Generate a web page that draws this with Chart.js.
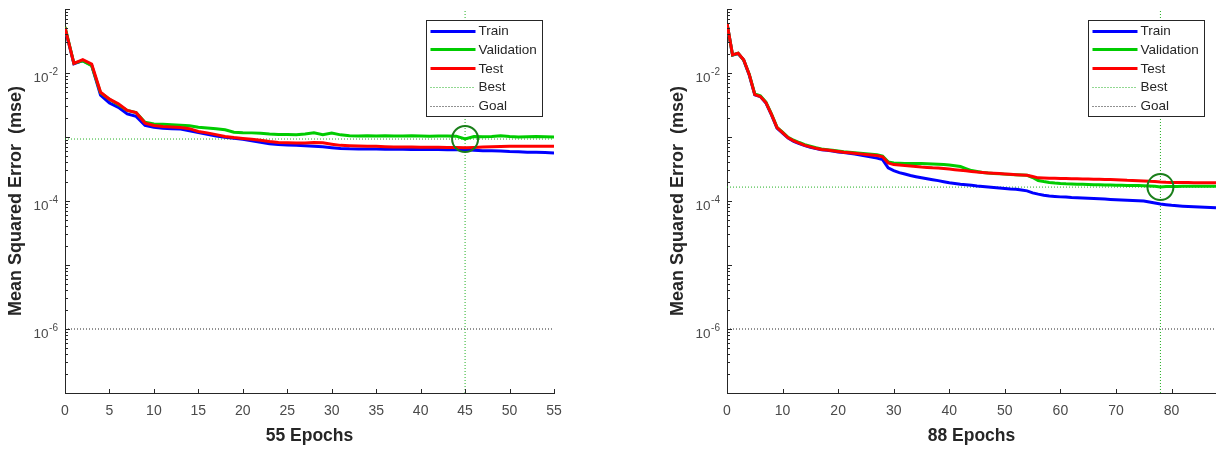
<!DOCTYPE html>
<html>
<head>
<meta charset="utf-8">
<title>Performance</title>
<script src="https://cdn.jsdelivr.net/npm/chart.js@4.4.1/dist/chart.umd.min.js"></script>
<style>
    html, body { margin: 0; padding: 0; background: #fff; }
    .panel { position: absolute; top: 0; height: 450px; }
    #panelA { left: 0; width: 608px; }
    #panelB { left: 662px; width: 554px; }
</style>
</head>
<body>
<div class="panel" id="panelA"><canvas id="perfA"></canvas></div>
<div class="panel" id="panelB"><canvas id="perfB"></canvas></div>
<script>
// ---- data ----
const SERIES_NAMES = ['Train', 'Validation', 'Test', 'Best', 'Goal'];
const Y_TICK_VALUES = [1e-2, 1e-4, 1e-6];
const Y_TICK_EXPONENTS = ['-2', '-4', '-6'];
const GOAL = 1e-6;

// run 1: 55 epochs
const TITLE_A = '55 Epochs';
const BEST_EPOCH_A = 45;
const BEST_VALUE_A = 0.00093;
const TRAIN_A = [
    0.050, 0.0139, 0.0156, 0.0132, 0.0045, 0.0034, 0.0029, 0.0023, 0.0021, 0.00152,
    0.00142, 0.00137, 0.00135, 0.00133, 0.00125, 0.00117, 0.0011, 0.00104, 0.00099, 0.00096,
    0.000925, 0.000876, 0.00083, 0.000787, 0.00076, 0.00075, 0.00074, 0.00073, 0.000717, 0.000702,
    0.00068, 0.000662, 0.000653, 0.000651, 0.000649, 0.000647, 0.000645, 0.000643, 0.000641, 0.000639,
    0.000637, 0.000636, 0.000635, 0.000634, 0.000633, 0.00063, 0.000623, 0.000612, 0.000608, 0.000602,
    0.000591, 0.000587, 0.00058, 0.000576, 0.00057, 0.000564
];
const VALID_A = [
    0.0525, 0.0142, 0.0155, 0.0130, 0.0049, 0.0039, 0.0032, 0.0026, 0.0024, 0.0017,
    0.00160, 0.00158, 0.00155, 0.00153, 0.0015, 0.00142, 0.00138, 0.00135, 0.0013, 0.00119,
    0.00117, 0.00116, 0.00114, 0.00111, 0.00109, 0.00109, 0.00108, 0.00111, 0.00116, 0.00109,
    0.00115, 0.00108, 0.00105, 0.00104, 0.00105, 0.00104, 0.00105, 0.00104, 0.00104, 0.00105,
    0.00104, 0.00103, 0.00104, 0.00104, 0.00103, 0.00093, 0.00102, 0.00101, 0.00102, 0.00105,
    0.00102, 0.00100, 0.00101, 0.00102, 0.00101, 0.00100
];
const TEST_A = [
    0.0511, 0.0141, 0.0162, 0.0138, 0.0050, 0.0039, 0.0033, 0.0026, 0.0024, 0.00165,
    0.00151, 0.00146, 0.00143, 0.00141, 0.00135, 0.00122, 0.00116, 0.00109, 0.00102, 0.00098,
    0.00095, 0.00092, 0.00089, 0.00085, 0.00082, 0.000815, 0.000806, 0.000806, 0.00082, 0.00081,
    0.000773, 0.00074, 0.000732, 0.000724, 0.00072, 0.000714, 0.000706, 0.0007, 0.000698, 0.000695,
    0.000693, 0.000693, 0.00069, 0.000687, 0.000685, 0.00068, 0.000687, 0.000698, 0.000706, 0.000711,
    0.000717, 0.000714, 0.00072, 0.000717, 0.000717, 0.000714
];

// run 2: 88 epochs
const TITLE_B = '88 Epochs';
const BEST_EPOCH_B = 78;
const BEST_VALUE_B = 0.000165;
const TRAIN_B = [
    0.0593, 0.019, 0.0202, 0.0159, 0.0093, 0.00455, 0.00428, 0.0034, 0.00222, 0.00138,
    0.00115, 0.00096, 0.000855, 0.000787, 0.000732, 0.00069, 0.000658, 0.000634, 0.00062, 0.000602,
    0.000585, 0.00057, 0.000557, 0.000541, 0.000522, 0.000503, 0.000485, 0.000468, 0.000444, 0.00033,
    0.000299, 0.000278, 0.000264, 0.00025, 0.00024, 0.000231, 0.000223, 0.000215, 0.000208, 0.0002,
    0.000193, 0.000188, 0.000183, 0.00018, 0.000176, 0.000172, 0.000169, 0.000166, 0.000163, 0.00016,
    0.000157, 0.000154, 0.000152, 0.000149, 0.000144, 0.000134, 0.000128, 0.000123, 0.00012, 0.000118,
    0.000116, 0.000115, 0.000113, 0.000112, 0.000111, 0.00011, 0.000109, 0.000108, 0.000107, 0.000106,
    0.000105, 0.000104, 0.000103, 0.000102, 0.000101, 0.0000997, 0.0000966, 0.0000933, 0.00009, 0.0000876,
    0.0000855, 0.0000843, 0.0000831, 0.0000822, 0.0000813, 0.0000804, 0.0000798, 0.0000793, 0.0000787
];
const VALID_B = [
    0.0598, 0.0191, 0.0203, 0.0160, 0.0096, 0.0047, 0.0044, 0.0035, 0.0023, 0.00142,
    0.00119, 0.00099, 0.00089, 0.00082, 0.00076, 0.00072, 0.00068, 0.00065, 0.000635, 0.00062,
    0.000605, 0.00059, 0.000578, 0.000567, 0.000557, 0.000547, 0.000538, 0.00053, 0.000505, 0.000409,
    0.000392, 0.000388, 0.000385, 0.000385, 0.000385, 0.000384, 0.000382, 0.00038, 0.000376, 0.000372,
    0.000364, 0.000355, 0.000345, 0.000321, 0.000299, 0.000288, 0.000278, 0.000273, 0.00027, 0.000266,
    0.000263, 0.00026, 0.000257, 0.000254, 0.000252, 0.000233, 0.000209, 0.000201, 0.000195, 0.000191,
    0.000188, 0.000186, 0.000185, 0.000183, 0.000182, 0.000181, 0.00018, 0.000179, 0.000178, 0.000178,
    0.000176, 0.000176, 0.000175, 0.000174, 0.000174, 0.000173, 0.000172, 0.00017, 0.000165, 0.000169,
    0.000169, 0.000169, 0.00017, 0.00017, 0.00017, 0.00017, 0.00017, 0.00017, 0.00017
];
const TEST_B = [
    0.0600, 0.0192, 0.0204, 0.0161, 0.0095, 0.0046, 0.0043, 0.00345, 0.00225, 0.0014,
    0.00117, 0.00097, 0.00087, 0.0008, 0.00074, 0.0007, 0.000665, 0.00064, 0.000625, 0.00061,
    0.000595, 0.00058, 0.000568, 0.000556, 0.000545, 0.000535, 0.000525, 0.000515, 0.00049, 0.000395,
    0.000371, 0.000364, 0.000358, 0.000351, 0.000345, 0.000339, 0.000335, 0.00033, 0.000327, 0.000321,
    0.000315, 0.000309, 0.000302, 0.000296, 0.000289, 0.000283, 0.000279, 0.000275, 0.000272, 0.000268,
    0.000264, 0.000261, 0.000258, 0.000255, 0.000253, 0.000241, 0.00023, 0.000229, 0.000227, 0.000226,
    0.000225, 0.000224, 0.000223, 0.000222, 0.000221, 0.00022, 0.000219, 0.000218, 0.000217, 0.000216,
    0.000215, 0.000213, 0.000211, 0.00021, 0.000208, 0.000206, 0.000203, 0.000201, 0.000198, 0.000196,
    0.000195, 0.000194, 0.000194, 0.000194, 0.000193, 0.000193, 0.000193, 0.000193, 0.000193
];

// ---- styling ----
const FONT = '"Liberation Sans", Arial, Helvetica, sans-serif';
const AXIS_COLOR = '#262626';
const TICK_COLOR = '#4a4a4a';
const Y_MIN = 1e-7;
const Y_MAX = 1e-1;

function toPoints(values) {
    return values.map((v, i) => ({ x: i, y: v }));
}

/**
 * MATLAB-like inward tick marks and 10^n labels on the log axis
 */
const matlabAxes = {
    id: 'matlabAxes',
    afterDraw(chart) {
        const ctx = chart.ctx;
        const xs = chart.scales.x;
        const ys = chart.scales.y;
        const a = chart.chartArea;

        ctx.save();
        ctx.strokeStyle = AXIS_COLOR;
        ctx.lineWidth = 1;
        ctx.beginPath();
        for (let e = -7; e <= -1; e++) {
            for (let s = 1; s <= 9; s++) {
                const v = s * Math.pow(10, e);
                if (v > Y_MAX * 1.0001) break;
                const py = Math.round(ys.getPixelForValue(v)) + 0.5;
                const len = s === 1 ? 5 : 3;
                ctx.moveTo(a.left, py);
                ctx.lineTo(a.left + len, py);
            }
        }
        xs.ticks.forEach(t => {
            const px = Math.round(xs.getPixelForValue(t.value)) + 0.5;
            ctx.moveTo(px, a.bottom);
            ctx.lineTo(px, a.bottom - 4);
        });
        ctx.stroke();

        // 10^n labels
        ctx.fillStyle = TICK_COLOR;
        ctx.textAlign = 'right';
        ctx.textBaseline = 'alphabetic';
        Y_TICK_VALUES.forEach((v, i) => {
            const py = ys.getPixelForValue(v);
            const right = a.left - 7;
            ctx.font = '10px ' + FONT;
            const ew = ctx.measureText(Y_TICK_EXPONENTS[i]).width;
            ctx.fillText(Y_TICK_EXPONENTS[i], right, py + 2);
            ctx.font = '13.5px ' + FONT;
            ctx.fillText('10', right - ew - 0.5, py + 8.5);
        });
        ctx.restore();
    }
};

/**
 * Boxed legend in the upper right of the plot area
 */
const mseLegend = {
    id: 'mseLegend',
    afterDraw(chart) {
        const ctx = chart.ctx;
        const a = chart.chartArea;
        const w = 116, h = 96;
        const bx = Math.round(a.right - 12 - w) + 0.5;
        const by = Math.round(a.top + 11) + 0.5;
        const styles = chart.options.plugins.mseLegend.items;

        ctx.save();
        ctx.fillStyle = '#fff';
        ctx.fillRect(bx, by, w, h);
        ctx.strokeStyle = AXIS_COLOR;
        ctx.lineWidth = 1;
        ctx.strokeRect(bx, by, w, h);

        ctx.font = '13.5px ' + FONT;
        ctx.textAlign = 'left';
        ctx.textBaseline = 'middle';
        SERIES_NAMES.forEach((name, i) => {
            const st = styles[i];
            const ry = by + 10 + i * 18.75;
            ctx.beginPath();
            ctx.strokeStyle = st.color;
            ctx.lineWidth = st.width;
            ctx.setLineDash(st.dash);
            ctx.moveTo(bx + 4, Math.round(ry) + 0.5);
            ctx.lineTo(bx + 49, Math.round(ry) + 0.5);
            ctx.stroke();
            ctx.setLineDash([]);
            ctx.fillStyle = AXIS_COLOR;
            ctx.fillText(name, bx + 52, ry + 1);
        });
        ctx.restore();
    }
};

const LEGEND_STYLES = [
    { color: '#0000ff', width: 3, dash: [] },
    { color: '#00cc00', width: 3, dash: [] },
    { color: '#ff0000', width: 3, dash: [] },
    { color: '#22b022', width: 1, dash: [1, 2] },
    { color: '#222222', width: 1, dash: [1, 2] }
];

function buildChart(canvasId, cfg) {
    const lastEpoch = cfg.train.length - 1;
    const curve = (label, values, color, order) => ({
        label: label,
        data: toPoints(values),
        borderColor: color,
        borderWidth: 3,
        pointRadius: 0,
        tension: 0,
        order: order
    });
    const guide = (label, points, color, order) => ({
        label: label,
        data: points,
        borderColor: color,
        borderWidth: 1,
        borderDash: [1, 2],
        pointRadius: 0,
        order: order
    });

    return new Chart(document.getElementById(canvasId), {
        type: 'line',
        data: {
            datasets: [
                {
                    label: 'best point',
                    data: [{ x: cfg.bestEpoch, y: cfg.bestValue }],
                    showLine: false,
                    pointRadius: 13,
                    pointBorderWidth: 2,
                    pointBorderColor: '#1a7f1a',
                    pointBackgroundColor: 'rgba(0,0,0,0)',
                    order: 0
                },
                curve('Test', cfg.test, '#ff0000', 1),
                curve('Validation', cfg.valid, '#00cc00', 2),
                curve('Train', cfg.train, '#0000ff', 3),
                guide('Best', [{ x: 0, y: cfg.bestValue }, { x: lastEpoch, y: cfg.bestValue }], '#22b022', 4),
                guide('Best epoch', [{ x: cfg.bestEpoch, y: Y_MIN }, { x: cfg.bestEpoch, y: Y_MAX }], '#22b022', 4),
                guide('Goal', [{ x: 0, y: GOAL }, { x: lastEpoch, y: GOAL }], '#222222', 5)
            ]
        },
        options: {
            responsive: true,
            maintainAspectRatio: false,
            animation: false,
            events: [],
            layout: { autoPadding: false, padding: { top: 9, right: cfg.padRight, left: 0, bottom: 0 } },
            plugins: {
                legend: { display: false },
                tooltip: { enabled: false },
                mseLegend: { items: LEGEND_STYLES }
            },
            scales: {
                x: {
                    type: 'linear',
                    min: 0,
                    max: lastEpoch,
                    ticks: {
                        stepSize: cfg.step,
                        includeBounds: false,
                        autoSkip: false,
                        maxRotation: 0,
                        color: TICK_COLOR,
                        font: { family: FONT, size: 14 },
                        padding: 10
                    },
                    grid: { display: false, drawTicks: false },
                    border: { display: true, color: AXIS_COLOR, width: 1 },
                    title: {
                        display: true,
                        text: cfg.title,
                        color: AXIS_COLOR,
                        font: { family: FONT, size: 17.5, weight: 'bold' },
                        padding: { top: 0, bottom: 3 }
                    },
                    afterFit: s => { s.height = 57; }
                },
                y: {
                    type: 'logarithmic',
                    min: Y_MIN,
                    max: Y_MAX,
                    ticks: { display: false },
                    grid: { display: false, drawTicks: false },
                    border: { display: true, color: AXIS_COLOR, width: 1 },
                    title: {
                        display: true,
                        text: 'Mean Squared Error  (mse)',
                        color: AXIS_COLOR,
                        font: { family: FONT, size: 18, weight: 'bold' },
                        padding: { top: 5, bottom: 0 }
                    },
                    afterFit: s => { s.width = 65; }
                }
            }
        },
        plugins: [matlabAxes, mseLegend]
    });
}

buildChart('perfA', {
    train: TRAIN_A, valid: VALID_A, test: TEST_A,
    bestEpoch: BEST_EPOCH_A, bestValue: BEST_VALUE_A,
    title: TITLE_A, step: 5, padRight: 54
});
buildChart('perfB', {
    train: TRAIN_B, valid: VALID_B, test: TEST_B,
    bestEpoch: BEST_EPOCH_B, bestValue: BEST_VALUE_B,
    title: TITLE_B, step: 10, padRight: 0
});
</script>
</body>
</html>
